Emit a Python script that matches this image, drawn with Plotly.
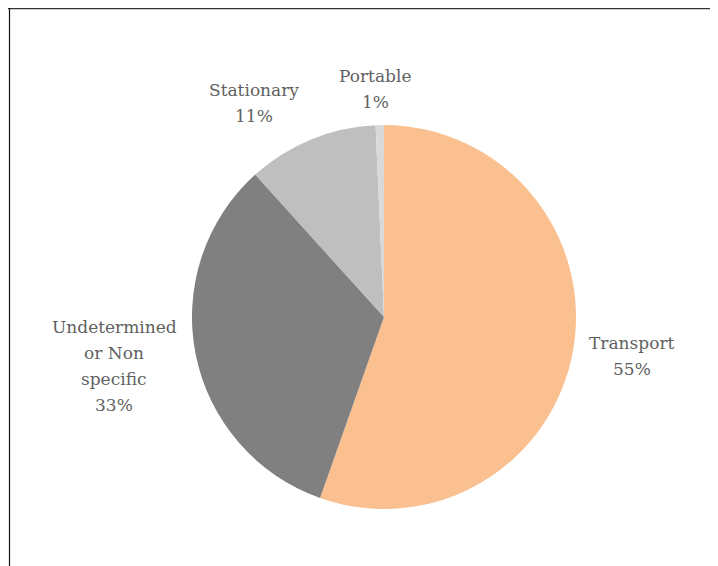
import plotly.graph_objects as go

categories = ["Transport", "Undetermined<br>or Non<br>specific", "Stationary", "Portable"]
values = [55.4, 32.9, 11.0, 0.7]
colors = ["#FAC090", "#808080", "#BFBFBF", "#D9D9D9"]

W, H = 718, 566
OFF = 8  # page body margin
LINE = 26  # label line spacing, px
# label block centres (screen pixels)
label_px = [(632, 356), (114, 366), (254, 103), (375, 89)]

total = sum(values)
cx, cy, r = 384 - OFF, 317 - OFF, 192

fig = go.Figure(go.Pie(
    labels=categories, values=values, sort=False, direction="clockwise", rotation=0,
    marker=dict(colors=colors, line=dict(width=0)),
    textinfo="none", hoverinfo="label+percent", showlegend=False,
    domain=dict(x=[(cx-r)/W, (cx+r)/W], y=[1-(cy+r)/H, 1-(cy-r)/H]),
))

for lab, v, (x, y) in zip(categories, values, label_px):
    lines = lab.split("<br>") + [f"{round(100*v/total)}%"]
    n = len(lines)
    for i, t in enumerate(lines):
        ly = y + (i - (n - 1) / 2) * LINE
        fig.add_annotation(x=(x - OFF) / W, y=1 - (ly - OFF) / H, xref="paper", yref="paper",
                           showarrow=False, text=t,
                           font=dict(family="DejaVu Serif", size=17, color="#5f5f5f"),
                           xanchor="center", yanchor="middle", align="center")

fig.add_shape(type="line", xref="paper", yref="paper", x0=0, x1=1, y0=1-0.5/H, y1=1-0.5/H,
              line=dict(color="#333333", width=1.5))
fig.add_shape(type="line", xref="paper", yref="paper", x0=1.5/W, x1=1.5/W, y0=0, y1=1,
              line=dict(color="#111111", width=1.2))

fig.update_layout(width=W, height=H, margin=dict(l=0, r=0, t=0, b=0),
                  paper_bgcolor="white", plot_bgcolor="white")
fig.write_html("out.html")
